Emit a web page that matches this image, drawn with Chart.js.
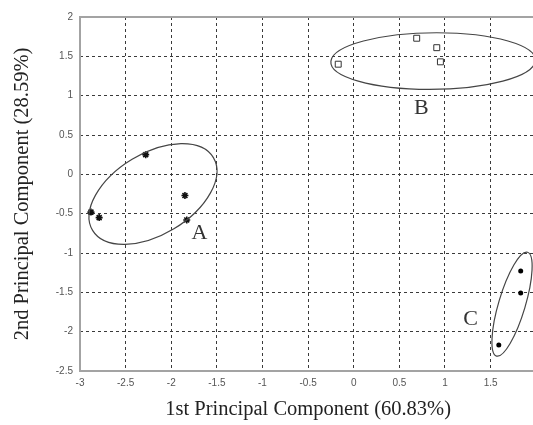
<!DOCTYPE html>
<html>
<head>
<meta charset="utf-8">
<script src="https://cdn.jsdelivr.net/npm/chart.js@4/dist/chart.umd.min.js"></script>
<style>
  html, body { margin: 0; padding: 0; background: #fff; overflow: hidden; }
  #wrap { width: 545px; height: 425px; }
</style>
</head>
<body>
<div id="wrap"><canvas id="pca" width="545" height="425"></canvas></div>
<script>
// PCA scores, three clusters
const clusterAX = [-2.28, -1.85, -2.88, -2.79, -1.83];
const clusterAY = [0.25, -0.27, -0.48, -0.55, -0.58];
const clusterBX = [-0.17, 0.69, 0.91, 0.95];
const clusterBY = [1.40, 1.73, 1.61, 1.43];
const clusterCX = [1.83, 1.83, 1.59];
const clusterCY = [-1.23, -1.51, -2.17];

const xTicks = [-3, -2.5, -2, -1.5, -1, -0.5, 0, 0.5, 1, 1.5, 2];
const yTicks = [-2.5, -2, -1.5, -1, -0.5, 0, 0.5, 1, 1.5, 2];

const xTitle = '1st Principal Component (60.83%)';
const yTitle = '2nd Principal Component (28.59%)';

// cluster letters and where they sit (data units)
const clusterNames = ['A', 'B', 'C'];
const nameX = [-1.69, 0.74, 1.28];
const nameY = [-0.75, 0.84, -1.84];

// confidence ellipses: centre plus two conjugate semi-diameters (data units)
const ellipseCX = [-2.20, 0.87, 1.735];
const ellipseCY = [-0.25, 1.44, -1.65];
const ellipseU = [[0.662, 0.463], [1.12, 0], [0.17, 0.66]];
const ellipseV = [[-0.229, 0.443], [0.04, 0.36], [-0.14, 0.048]];

const toPoints = (xs, ys) => xs.map((x, i) => ({ x: x, y: ys[i] }));

const overlay = {
    id: 'overlay',
    beforeDatasetsDraw(chart) {
        const { ctx, chartArea: a } = chart;
        ctx.save();
        ctx.strokeStyle = '#a3a3a3';
        ctx.lineWidth = 2;
        ctx.strokeRect(a.left, a.top, a.right - a.left, a.bottom - a.top);
        ctx.restore();
    },
    afterDatasetsDraw(chart) {
        const ctx = chart.ctx;
        const xs = chart.scales.x;
        const ys = chart.scales.y;

        ctx.save();
        ctx.strokeStyle = '#454545';
        ctx.lineWidth = 1.2;
        ellipseCX.forEach((cxv, i) => {
            const cyv = ellipseCY[i];
            const cx = xs.getPixelForValue(cxv);
            const cy = ys.getPixelForValue(cyv);
            const u = ellipseU[i];
            const v = ellipseV[i];
            const ux = xs.getPixelForValue(cxv + u[0]) - cx;
            const uy = ys.getPixelForValue(cyv + u[1]) - cy;
            const vx = xs.getPixelForValue(cxv + v[0]) - cx;
            const vy = ys.getPixelForValue(cyv + v[1]) - cy;
            ctx.save();
            ctx.transform(ux, uy, vx, vy, cx, cy);
            ctx.beginPath();
            ctx.arc(0, 0, 1, 0, Math.PI * 2);
            ctx.restore();
            ctx.stroke();
        });

        ctx.fillStyle = '#333';
        ctx.font = '22px "Liberation Serif", "Times New Roman", serif';
        ctx.textAlign = 'center';
        ctx.textBaseline = 'middle';
        clusterNames.forEach((name, i) => {
            ctx.fillText(name, xs.getPixelForValue(nameX[i]), ys.getPixelForValue(nameY[i]));
        });
        ctx.restore();
    }
};

const tickFont = { family: '"Liberation Sans", Arial, sans-serif', size: 10 };
const titleFont = { family: '"Liberation Serif", "Times New Roman", serif', size: 20.5 };
const plainNumber = (value) => String(value);

new Chart(document.getElementById('pca'), {
    type: 'scatter',
    data: {
        datasets: [{
            label: 'A',
            data: toPoints(clusterAX, clusterAY),
            pointStyle: 'star',
            radius: 3.5,
            borderWidth: 1.6,
            borderColor: '#111',
            backgroundColor: '#111'
        }, {
            label: 'B',
            data: toPoints(clusterBX, clusterBY),
            pointStyle: 'rect',
            radius: 4.2,
            borderWidth: 1,
            borderColor: '#333',
            backgroundColor: 'rgba(0,0,0,0)'
        }, {
            label: 'C',
            data: toPoints(clusterCX, clusterCY),
            pointStyle: 'circle',
            radius: 2.5,
            borderWidth: 0,
            backgroundColor: '#000'
        }]
    },
    options: {
        responsive: false,
        animation: false,
        devicePixelRatio: 1,
        layout: { padding: { top: 17, right: 8, left: 0, bottom: 0 } },
        plugins: {
            legend: { display: false },
            tooltip: { enabled: false }
        },
        scales: {
            x: {
                type: 'linear',
                min: -3,
                max: 2,
                afterBuildTicks: (scale) => { scale.ticks = xTicks.map((v) => ({ value: v })); },
                afterFit: (scale) => { scale.height = 54; },
                ticks: { color: '#555', font: tickFont, padding: 6, maxRotation: 0, autoSkip: false, callback: plainNumber },
                grid: { color: '#3a3a3a', lineWidth: 1, drawTicks: false },
                border: { display: false, dash: [3, 3] },
                title: { display: true, text: xTitle, color: '#222', font: titleFont, padding: { top: 0, bottom: 3 } }
            },
            y: {
                type: 'linear',
                min: -2.5,
                max: 2,
                afterBuildTicks: (scale) => { scale.ticks = yTicks.map((v) => ({ value: v })); },
                afterFit: (scale) => { scale.width = 80; },
                ticks: { color: '#555', font: tickFont, padding: 7, autoSkip: false, callback: plainNumber },
                grid: { color: '#3a3a3a', lineWidth: 1, drawTicks: false },
                border: { display: false, dash: [3, 3] },
                title: { display: true, text: yTitle, color: '#222', font: titleFont, padding: { top: 10, bottom: 0 } }
            }
        }
    },
    plugins: [overlay]
});
</script>
</body>
</html>
